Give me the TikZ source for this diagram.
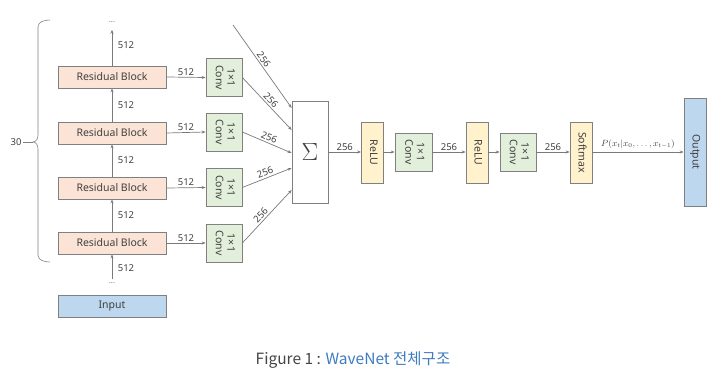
\documentclass[tikz,border=0pt]{standalone}
\usepackage{fontspec}
\setmainfont{Noto Sans}
\newfontfamily\krfont{Noto Sans CJK KR}
\usetikzlibrary{arrows.meta,calc}
\definecolor{peach}{HTML}{FBE3D6}
\definecolor{lgreen}{HTML}{E2EFDA}
\definecolor{lyellow}{HTML}{FFF2CC}
\definecolor{lblue}{HTML}{BDD7EE}
\definecolor{bord}{HTML}{808080}
\definecolor{ln}{HTML}{7A7A7A}
\definecolor{txt}{HTML}{404040}
\definecolor{capblue}{HTML}{3D7BBE}
\definecolor{capgray}{HTML}{444444}
\newcommand\vtxt[1]{\rotatebox{-90}{\begin{tabular}{@{}c@{}}#1\end{tabular}}}
\begin{document}
\begin{tikzpicture}[x=1pt,y=-1pt,
  box/.style={draw=bord,line width=0.7pt,inner sep=0pt,text=txt,font=\fontsize{10.5}{11.5}\selectfont},
  resblock/.style={box,fill=peach,minimum width=108pt,minimum height=22pt},
  inblock/.style={box,fill=lblue,minimum width=108pt,minimum height=22pt},
  convbox/.style={box,fill=lgreen,minimum width=36pt,minimum height=38pt},
  actbox/.style={box,fill=lyellow,minimum width=22pt,minimum height=61pt},
  outbox/.style={box,fill=lblue,minimum width=22pt,minimum height=108pt},
  sumbox/.style={box,fill=white,minimum width=36pt,minimum height=102pt},
  arr/.style={draw=ln,line width=0.7pt,-{Stealth[length=4pt,width=3pt]}},
  lbl/.style={text=txt,font=\fontsize{9.5}{10}\selectfont,inner sep=1.5pt},
  dots/.style={text=ln,font=\fontsize{8}{8}\selectfont,inner sep=1pt}
]
\useasboundingbox (0,0) rectangle (726,380);

% residual blocks
\node[resblock] (rb1) at (112,77) {Residual Block};
\node[resblock] (rb2) at (112,133) {Residual Block};
\node[resblock] (rb3) at (112,188) {Residual Block};
\node[resblock] (rb4) at (112,243) {Residual Block};
\node[inblock] (in) at (112,306) {Input};
\node[dots] (dtop) at (112,22) {...};
\node[dots] (dbot) at (112,283) {...};

\draw[arr,shorten >=6pt] (rb1.north) -- (dtop.south) node[lbl,midway,right,xshift=4pt]{512};
\draw[arr] (rb2.north) -- (rb1.south) node[lbl,midway,right,xshift=4pt]{512};
\draw[arr] (rb3.north) -- (rb2.south) node[lbl,midway,right,xshift=4pt]{512};
\draw[arr] (rb4.north) -- (rb3.south) node[lbl,midway,right,xshift=4pt]{512};
\draw[arr,shorten <=2pt] (dbot.north) -- (rb4.south) node[lbl,midway,right,xshift=4pt]{512};

% 1x1 convs
\node[convbox] (c1) at (224,77.5) {\vtxt{1×1\\Conv}};
\node[convbox] (c2) at (224,132) {\vtxt{1×1\\Conv}};
\node[convbox] (c3) at (224,187.5) {\vtxt{1×1\\Conv}};
\node[convbox] (c4) at (224,243) {\vtxt{1×1\\Conv}};
\foreach \i in {1,...,4}{
  \draw[arr] (rb\i.east) -- (c\i.west) node[lbl,midway,above]{512};
}

% sum
\node[sumbox] (sum) at (310,152) {\fontsize{26}{26}\selectfont$\Sigma$};
\coordinate (topin) at (233,25);
\draw[arr] (topin) -- ([yshift=44pt]sum.west) node[lbl,pos=0.45,above,sloped]{256};
\draw[arr] (c1.east) -- ([yshift=22pt]sum.west) node[lbl,midway,above,sloped]{256};
\draw[arr] (c2.east) -- ([yshift=-1pt]sum.west) node[lbl,midway,above,sloped]{256};
\draw[arr] (c3.east) -- ([yshift=-16pt]sum.west) node[lbl,midway,above,sloped]{256};
\draw[arr] (c4.east) -- ([yshift=-38pt]sum.west) node[lbl,pos=0.45,above,sloped]{256};

% output chain
\node[actbox] (r1) at (372.5,152.5) {\vtxt{ReLU}};
\node[convbox,minimum width=37pt] (c5) at (413.5,152) {\vtxt{1×1\\Conv}};
\node[actbox] (r2) at (477,152.5) {\vtxt{ReLU}};
\node[convbox] (c6) at (518,152) {\vtxt{1×1\\Conv}};
\node[actbox] (sm) at (581,152.5) {\vtxt{Softmax}};
\node[outbox] (out) at (695,152) {\vtxt{Output}};

\draw[arr] (sum.east) -- (sum.east -| r1.west) node[lbl,midway,above]{256};
\draw[arr] (r1.east |- c5.west) -- (c5.west);
\draw[arr] (c5.east) -- (c5.east -| r2.west) node[lbl,midway,above]{256};
\draw[arr] (r2.east |- c6.west) -- (c6.west);
\draw[arr] (c6.east) -- (c6.east -| sm.west) node[lbl,midway,above]{256};
\draw[arr] (sm.east |- out.west) -- (out.west) node[midway,above,text=txt,font=\fontsize{9}{10}\selectfont,inner sep=3pt]{$P(x_t|x_0,\ldots,x_{t-1})$};

% brace
\draw[bord,line width=0.6pt] (50,20) to[out=180,in=90] (38,27) -- (38,135)
  to[out=-90,in=0] (33,142) to[out=0,in=90] (38,149) -- (38,255) to[out=-90,in=180] (50,262);
\coordinate (bt) at (33,142);
\node[text=txt,font=\fontsize{9.5}{10}\selectfont,inner sep=1pt] (n30) at (16,142) {30};
\draw[bord,line width=0.6pt] (bt) -- (n30.east);

% caption
\node[font=\krfont\fontsize{15.5}{18}\selectfont] (cap) at (353,360)
  {\textcolor{capgray}{Figure 1 : }\textcolor{capblue}{WaveNet 전체구조}};
\end{tikzpicture}
\end{document}
